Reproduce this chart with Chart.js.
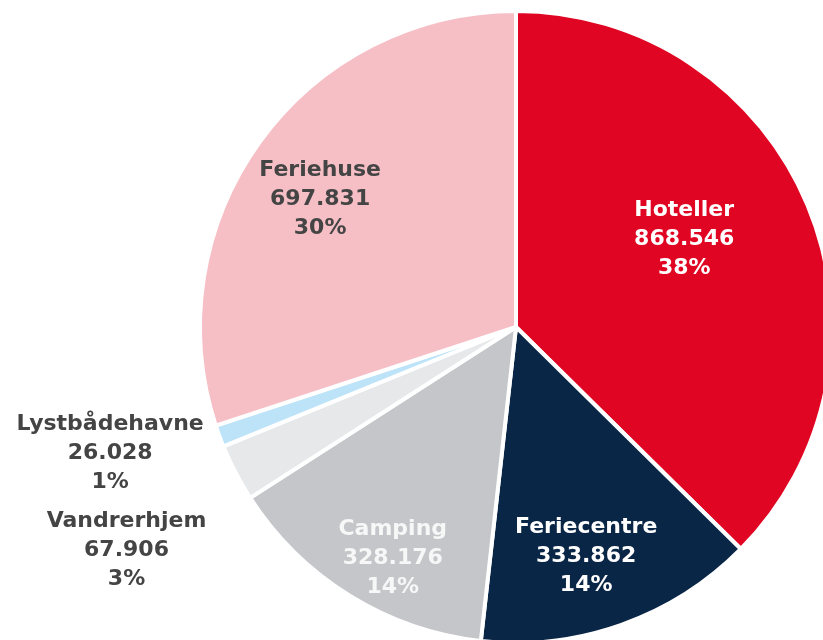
<!DOCTYPE html>
<html>
<head>
<meta charset="utf-8">
<script src="https://cdn.jsdelivr.net/npm/chart.js@4/dist/chart.umd.min.js"></script>
<style>
  html, body { margin: 0; padding: 0; background: #fff; overflow: hidden; width: 823px; height: 640px; }
  #wrap { width: 840px; height: 660px; }
</style>
</head>
<body>
<div id="wrap"><canvas id="pie" width="840" height="660"></canvas></div>
<script>
/* --- data --- */
const categories = ['Hoteller', 'Feriecentre', 'Camping', 'Vandrerhjem', 'Lystbådehavne', 'Feriehuse'];
const values = [868546, 333862, 328176, 67906, 26028, 697831];
const valueLabels = ['868.546', '333.862', '328.176', '67.906', '26.028', '697.831'];
const percentLabels = ['38%', '14%', '14%', '3%', '1%', '30%'];

const colors = ['#E00522', '#0A2647', '#C5C6CA', '#E7E8EA', '#BDE3F9', '#F6BFC6'];
const textColors = ['#ffffff', '#ffffff', '#f7f7f7', '#444444', '#444444', '#444444'];
// label placement: fraction of radius, angle shift (deg) from slice middle
const labelRadius = [0.60, 0.76, 0.83, 1.42, 1.345, 0.74];
const labelShift = [-4.8, 2.5, -3.8, -2.3, 2.9, -2.8];

const FONT = "bold 22px 'DejaVu Sans', sans-serif";
const LINE_H = 29;

const sliceLabels = {
    id: 'sliceLabels',
    afterDatasetsDraw(chart) {
        const ctx = chart.ctx;
        const meta = chart.getDatasetMeta(0);
        ctx.save();
        ctx.font = FONT;
        ctx.textAlign = 'center';
        ctx.textBaseline = 'middle';
        meta.data.forEach((arc, i) => {
            const p = arc.getProps(['x', 'y', 'startAngle', 'endAngle', 'outerRadius'], true);
            const mid = (p.startAngle + p.endAngle) / 2 + labelShift[i] * Math.PI / 180;
            const r = p.outerRadius * labelRadius[i];
            const cx = p.x + Math.cos(mid) * r;
            const cy = p.y + Math.sin(mid) * r;
            ctx.fillStyle = textColors[i];
            const lines = [categories[i], valueLabels[i], percentLabels[i]];
            lines.forEach((t, k) => ctx.fillText(t, cx, cy + (k - 1) * LINE_H));
        });
        ctx.restore();
    }
};

new Chart(document.getElementById('pie').getContext('2d'), {
    type: 'pie',
    data: {
        labels: categories,
        datasets: [{
            data: values,
            backgroundColor: colors,
            borderColor: '#ffffff',
            borderWidth: 4
        }]
    },
    options: {
        responsive: false,
        animation: false,
        layout: { padding: { left: 198, top: 9, right: 6, bottom: 15 } },
        plugins: {
            legend: { display: false },
            tooltip: { enabled: false }
        }
    },
    plugins: [sliceLabels]
});
</script>
</body>
</html>
